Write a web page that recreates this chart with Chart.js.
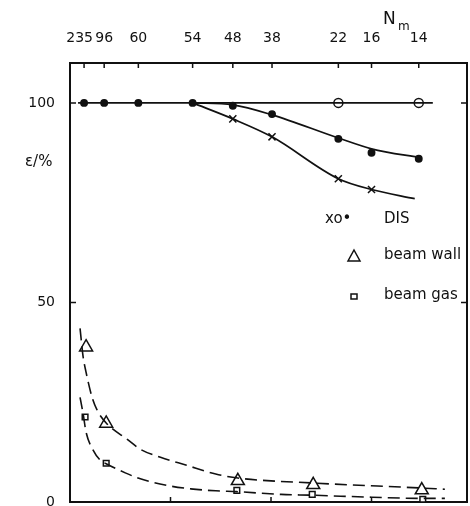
<!DOCTYPE html>
<html>
<head>
<meta charset="utf-8">
<script src="https://cdn.jsdelivr.net/npm/chart.js@4.4.1/dist/chart.umd.min.js"></script>
<style>
  html, body { margin: 0; padding: 0; background: #fff; }
</style>
</head>
<body>
<canvas id="chart" width="470" height="506"></canvas>
<script>
// top axis: N_m values and where they sit along the run axis
// ('235' carries trailing spaces so its centre moves left, clear of '96')
const nmLabels = ['235  ', '96', '60', '54', '48', '38', '22', '16', '14'];
const nmPos = [0.14, 0.34, 0.68, 1.22, 1.62, 2.01, 2.67, 3.0, 3.47];
const bottomTicks = [1, 2, 3];
const yTicks = [0, 50, 100];

// DIS efficiency markers
const disDotX = [0.14, 0.34, 0.68, 1.22, 1.62, 2.01, 2.67, 3.0, 3.47];
const disDotY = [100, 100, 100, 100, 99.3, 97.2, 91, 87.5, 86];
const disOpenX = [2.67, 3.47];
const disOpenY = [100, 100];
const disCrossX = [1.62, 2.01, 2.67, 3.0];
const disCrossY = [96, 91.5, 81, 78.3];

// drawn-in curves through the DIS points
const flatX = [0.08, 3.61];
const flatY = [100, 100];
const dotCurveX = [1.22, 1.62, 2.01, 2.67, 3.0, 3.5];
const dotCurveY = [100, 99.5, 97, 91.2, 88.5, 86.2];
const crossCurveX = [1.22, 1.62, 2.01, 2.67, 3.0, 3.43];
const crossCurveY = [100, 96, 91.5, 81, 78.3, 76];

// beam wall / beam gas background
const wallX = [0.16, 0.36, 1.67, 2.42, 3.5];
const wallY = [38.8, 19.7, 5.3, 4.3, 3.0];
const gasX = [0.15, 0.36, 1.66, 2.41, 3.51];
const gasY = [21.3, 9.7, 2.9, 1.9, 0.7];
const wallFitX = [0.10, 0.13, 0.16, 0.22, 0.27, 0.36, 0.58, 0.70, 0.90, 1.16, 1.45, 1.67, 2.42, 3.5, 3.73];
const wallFitY = [43.5, 36.5, 32.5, 26.2, 23, 19.8, 15.5, 13.2, 11.2, 9.2, 7, 6, 4.75, 3.5, 3.2];
const gasFitX = [0.10, 0.13, 0.16, 0.23, 0.30, 0.36, 0.55, 0.70, 1.0, 1.2, 1.45, 1.66, 2.1, 2.41, 3.0, 3.51, 3.73];
const gasFitY = [26.2, 22.2, 17.5, 13, 10.5, 9.6, 7.3, 5.8, 4.0, 3.3, 2.8, 2.6, 1.9, 1.7, 1.2, 0.9, 0.9];

const ink = '#111';
const fontFamily = '"DejaVu Sans", sans-serif';
const pts = (xs, ys) => xs.map((x, i) => ({ x: x, y: ys[i] }));

const curve = (xs, ys, dashed) => ({
    data: pts(xs, ys),
    borderColor: ink,
    borderWidth: dashed ? 1.6 : 1.7,
    borderDash: dashed ? [12, 6] : [],
    pointRadius: 0,
    cubicInterpolationMode: 'monotone',
    fill: false,
});

const markers = (xs, ys, style, radius, filled) => ({
    data: pts(xs, ys),
    showLine: false,
    pointStyle: style,
    pointRadius: radius,
    pointBorderWidth: 1.5,
    pointBorderColor: ink,
    pointBackgroundColor: filled ? ink : '#fff',
});

// frame round the plot area with small inward ticks
const framePlugin = {
    id: 'frame',
    beforeDatasetsDraw(chart) {
        const { ctx, chartArea: a, scales } = chart;
        ctx.save();
        ctx.strokeStyle = ink;
        ctx.lineWidth = 2;
        ctx.strokeRect(a.left, a.top, a.right - a.left, a.bottom - a.top);
        ctx.lineWidth = 1.5;
        ctx.beginPath();
        nmPos.forEach((v) => {
            const px = scales.x2.getPixelForValue(v);
            ctx.moveTo(px, a.top);
            ctx.lineTo(px, a.top + 5);
        });
        bottomTicks.forEach((v) => {
            const px = scales.x.getPixelForValue(v);
            ctx.moveTo(px, a.bottom);
            ctx.lineTo(px, a.bottom - 5);
        });
        yTicks.forEach((v) => {
            const py = scales.y.getPixelForValue(v);
            ctx.moveTo(a.left, py);
            ctx.lineTo(a.left + 6, py);
            ctx.moveTo(a.right, py);
            ctx.lineTo(a.right - 6, py);
        });
        ctx.stroke();
        ctx.restore();
    },
};

// axis names and the key in the upper right
const notesPlugin = {
    id: 'notes',
    afterDraw(chart) {
        const ctx = chart.ctx;
        ctx.save();
        ctx.fillStyle = ink;
        ctx.strokeStyle = ink;
        ctx.textBaseline = 'middle';
        ctx.textAlign = 'left';

        ctx.font = '15px ' + fontFamily;
        ctx.fillText('ε/%', 25, 162);

        ctx.font = '17px ' + fontFamily;
        ctx.fillText('N', 383, 20);
        ctx.font = '12px ' + fontFamily;
        ctx.fillText('m', 398, 27);

        ctx.font = '15px ' + fontFamily;
        ctx.fillText('xo•', 325, 219);
        ctx.fillText('DIS', 384, 219);
        ctx.fillText('beam wall', 384, 255);
        ctx.fillText('beam gas', 384, 295);

        ctx.lineWidth = 1.5;
        ctx.beginPath();
        ctx.moveTo(354, 250);
        ctx.lineTo(360, 261);
        ctx.lineTo(348, 261);
        ctx.closePath();
        ctx.stroke();
        ctx.strokeRect(351, 294, 6, 5);
        ctx.restore();
    },
};

const tickFont = { family: fontFamily, size: 14 };

new Chart(document.getElementById('chart'), {
    type: 'line',
    data: {
        datasets: [
            curve(flatX, flatY, false),
            curve(dotCurveX, dotCurveY, false),
            curve(crossCurveX, crossCurveY, false),
            curve(wallFitX, wallFitY, true),
            curve(gasFitX, gasFitY, true),
            markers(disDotX, disDotY, 'circle', 3.2, true),
            markers(disOpenX, disOpenY, 'circle', 4.5, false),
            markers(disCrossX, disCrossY, 'crossRot', 5, false),
            markers(wallX, wallY, 'triangle', 7.5, false),
            markers(gasX, gasY, 'rect', 4, false),
        ],
    },
    options: {
        responsive: false,
        animation: false,
        events: [],
        layout: {
            autoPadding: false,
            padding: { top: 0, left: 0, right: 3, bottom: 4 },
        },
        plugins: {
            legend: { display: false },
            tooltip: { enabled: false },
        },
        scales: {
            x: {
                type: 'linear',
                min: 0,
                max: 3.95,
                display: false,
            },
            x2: {
                type: 'linear',
                position: 'top',
                min: 0,
                max: 3.95,
                afterBuildTicks: (s) => { s.ticks = nmPos.map((v) => ({ value: v })); },
                afterFit: (s) => {
                    s.height = 63;
                    s.paddingLeft = 0;
                    s.paddingRight = 0;
                },
                ticks: {
                    callback: (v, i) => nmLabels[i],
                    autoSkip: false,
                    maxRotation: 0,
                    padding: 16,
                    color: ink,
                    font: tickFont,
                },
                grid: { display: false, drawTicks: false },
                border: { display: false },
            },
            y: {
                type: 'linear',
                min: 0,
                max: 110,
                afterBuildTicks: (s) => { s.ticks = yTicks.map((v) => ({ value: v })); },
                afterFit: (s) => {
                    s.width = 70;
                    s.paddingTop = 0;
                    s.paddingBottom = 0;
                },
                ticks: {
                    padding: 15,
                    color: ink,
                    font: tickFont,
                },
                grid: { display: false, drawTicks: false },
                border: { display: false },
            },
        },
    },
    plugins: [framePlugin, notesPlugin],
});
</script>
</body>
</html>
